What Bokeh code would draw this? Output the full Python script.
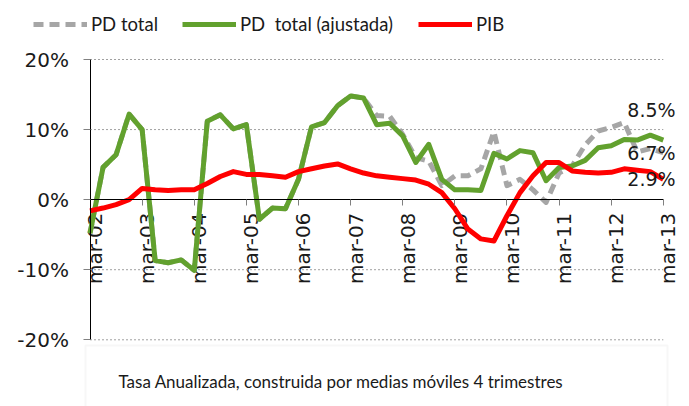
import math
from bokeh.plotting import figure
from bokeh.models import (FixedTicker, Legend, LegendItem, Label, LabelSet,
                          BoxAnnotation, ColumnDataSource, Range1d)
from bokeh.core.properties import value
from bokeh.embed import file_html
from bokeh.resources import INLINE

# ---------------- data (quarterly, mar-02 .. mar-13) ----------------
quarter_index = list(range(45))

pd_total = [-4.8, 4.6, 6.4, 12.2, 10.0, -8.7, -9.0, -8.6, -10.1, 11.2, 12.1, 10.1,
            10.7, -2.8, -1.2, -1.3, 2.9, 10.4, 11.0, 13.4, 14.8, 14.5, 12.0, 11.9,
            9.3, 6.0, 5.5, 2.0, 3.4, 3.4, 4.4, 9.7, 2.0, 2.9, 1.4, -0.4,
            3.8, 4.8, 7.8, 9.8, 10.3, 11.0, 6.8, 7.3, 6.7]

pd_ajustada = [-4.8, 4.6, 6.4, 12.2, 10.0, -8.7, -9.0, -8.6, -10.1, 11.2, 12.1, 10.1,
               10.7, -2.8, -1.2, -1.3, 2.9, 10.4, 11.0, 13.4, 14.8, 14.5, 10.7, 10.9,
               9.1, 5.3, 7.9, 2.9, 1.4, 1.4, 1.3, 6.6, 5.8, 7.0, 6.7, 2.7,
               4.6, 4.8, 5.6, 7.4, 7.7, 8.6, 8.5, 9.2, 8.5]

pib = [-1.6, -1.2, -0.7, 0.0, 1.6, 1.4, 1.3, 1.4, 1.4, 2.3, 3.3, 4.0,
       3.6, 3.6, 3.4, 3.2, 4.0, 4.4, 4.8, 5.1, 4.4, 3.8, 3.4, 3.2,
       3.0, 2.8, 2.2, 1.0, -1.3, -4.2, -5.6, -5.9, -2.3, 1.0, 3.4, 5.3,
       5.3, 4.1, 3.9, 3.8, 3.9, 4.4, 4.2, 4.0, 2.9]

x_tick_pos = [0, 4, 8, 12, 16, 20, 24, 28, 32, 36, 40, 44]
x_tick_labels = ["mar-02", "mar-03", "mar-04", "mar-05", "mar-06", "mar-07",
                 "mar-08", "mar-09", "mar-10", "mar-11", "mar-12", "mar-13"]
y_tick_pos = [-20, -10, 0, 10, 20]
y_tick_labels = ["-20%", "-10%", "0%", "10%", "20%"]
grid_y = [-20, -10, 10, 20]

series_names = ["PD total", "PD  total (ajustada)", "PIB"]
note_text = "Tasa Anualizada, construida por  medias  móviles 4 trimestres"

GRAY = "#a6a6a6"
GREEN = "#62a12e"
RED = "#ff0000"
TXT = "#1a1a1a"
SANS2 = "Lato"

W, H = 689, 406
# frame covers the whole canvas; ranges padded so the plotting area sits
# where the reference has it (x: 0..44 -> 89.5..662.8 px, y: 20..-20 -> 59..339 px)
p = figure(width=W, height=H, output_backend="svg", toolbar_location=None,
           x_range=Range1d(-6.87, 46.01), y_range=Range1d(-29.52, 28.42),
           min_border=0, min_border_left=0, min_border_right=0,
           min_border_top=0, min_border_bottom=0)
p.outline_line_color = None
p.background_fill_color = "white"
p.border_fill_color = "white"
p.xgrid.visible = False
p.ygrid.visible = False

# dotted horizontal gridlines across the plotting area
p.segment(x0=[quarter_index[0]] * len(grid_y), x1=[quarter_index[-1]] * len(grid_y),
          y0=grid_y, y1=grid_y, line_color="#a0a0a0", line_width=1, line_dash="2 2")

# y axis at x = first quarter
yax = p.yaxis[0]
yax.fixed_location = quarter_index[0]
yax.bounds = (y_tick_pos[0], y_tick_pos[-1])
yax.ticker = FixedTicker(ticks=y_tick_pos)
yax.major_label_overrides = {t: l for t, l in zip(y_tick_pos, y_tick_labels)}
yax.axis_line_color = "black"
yax.major_tick_line_color = "#808080"
yax.major_tick_out = 7
yax.major_tick_in = 0
yax.minor_tick_line_color = None
yax.major_label_text_font = "DejaVu Sans"
yax.major_label_text_font_size = "20px"
yax.major_label_text_color = TXT
yax.major_label_standoff = 14

# x axis crossing at 0 (ticks only; category labels drawn just below it)
xax = p.xaxis[0]
xax.fixed_location = 0
xax.bounds = (quarter_index[0], quarter_index[-1])
xax.ticker = FixedTicker(ticks=x_tick_pos)
xax.major_label_overrides = {t: "" for t in x_tick_pos}
xax.axis_line_color = "black"
xax.major_tick_line_color = "#808080"
xax.major_tick_out = 6
xax.major_tick_in = 0
xax.minor_tick_line_color = None

xlab_src = ColumnDataSource(dict(x=x_tick_pos, y=[0] * len(x_tick_pos),
                                 text=x_tick_labels))
p.add_layout(LabelSet(x="x", y="y", text="text", source=xlab_src,
                      angle=math.pi / 2, x_offset=5, y_offset=-13,
                      text_align="right", text_baseline="middle",
                      text_font=value("DejaVu Sans"), text_font_size=value("20px"),
                      text_color=TXT, level="underlay"))

r_gray = p.line(quarter_index, pd_total, line_color=GRAY, line_width=5,
                line_dash="10 6", line_join="round")
r_green = p.line(quarter_index, pd_ajustada, line_color=GREEN, line_width=5,
                 line_join="round")
r_red = p.line(quarter_index, pib, line_color=RED, line_width=5, line_join="round")

# end-of-series labels
last_vals = [pd_ajustada[-1], pd_total[-1], pib[-1]]
end_src = ColumnDataSource(dict(
    x=[quarter_index[-1]] * 3,
    y=last_vals,
    text=[f"{v:.1f}%" for v in last_vals],
    yoff=[30, 0, 0],
))
p.add_layout(LabelSet(x="x", y="y", text="text", source=end_src, x_offset=-36,
                      y_offset="yoff", text_font=value("DejaVu Sans"),
                      text_font_size=value("19px"), text_color=TXT,
                      text_baseline="middle", text_align="left"))

# legends (one per item, positioned above the plotting area)
leg_style = dict(orientation="horizontal", padding=0, margin=0,
                 border_line_color=None, background_fill_alpha=0,
                 glyph_width=54, glyph_height=20, label_standoff=4,
                 label_text_font=SANS2, label_text_font_size="18.5px",
                 label_text_color=TXT, label_height=20, spacing=0)
for name, r, xloc in zip(series_names, [r_gray, r_green, r_red], [33, 182, 418]):
    leg = Legend(items=[LegendItem(label=name, renderers=[r])],
                 location=(xloc, 371), **leg_style)
    p.add_layout(leg)

# note box and text below the plotting area
p.add_layout(BoxAnnotation(left=85, right=667, top=61, bottom=-5,
                           left_units="screen", right_units="screen",
                           top_units="screen", bottom_units="screen",
                           fill_alpha=0, line_color="#e3e3e3", line_width=2))
p.add_layout(Label(x=118, y=25, x_units="screen", y_units="screen",
                   text=note_text, text_font=SANS2, text_font_size="17px",
                   text_color=TXT, text_baseline="middle"))

open("out.html", "w").write(file_html(p, INLINE))
